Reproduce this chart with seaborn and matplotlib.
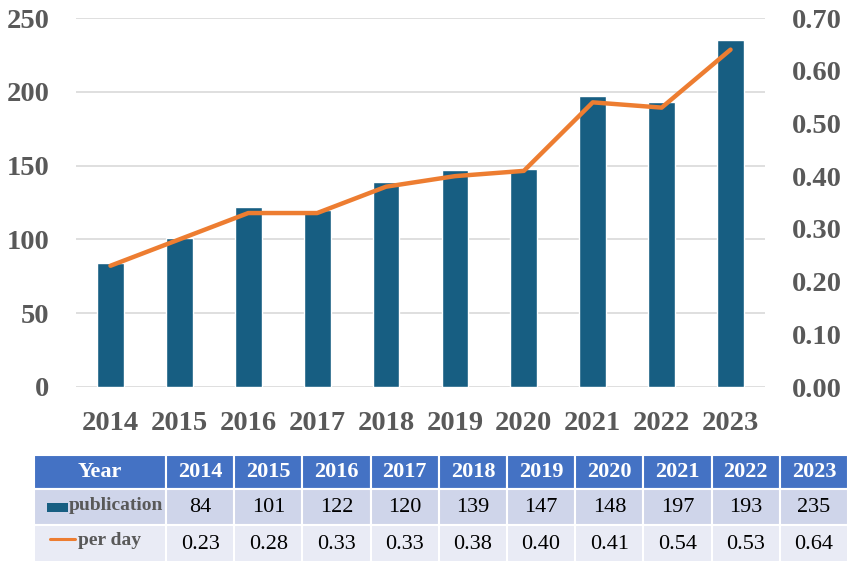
import numpy as np
import pandas as pd
import seaborn as sns
import matplotlib.pyplot as plt
from matplotlib.patches import Rectangle

years = ['2014', '2015', '2016', '2017', '2018', '2019', '2020', '2021', '2022', '2023']
publications = [84, 101, 122, 120, 139, 147, 148, 197, 193, 235]
per_day = [0.23, 0.28, 0.33, 0.33, 0.38, 0.40, 0.41, 0.54, 0.53, 0.64]
left_ticks = [0, 50, 100, 150, 200, 250]
right_ticks = [0.0, 0.1, 0.2, 0.3, 0.4, 0.5, 0.6, 0.7]

bar_color = '#175E82'
line_color = '#ED7D31'
grey = '#595959'

df = pd.DataFrame({'year': years, 'publication': publications, 'per_day': per_day})
df['pos'] = np.arange(len(df))

sns.set_theme(style='white')
plt.rcParams['font.family'] = ['Liberation Serif', 'DejaVu Serif']

W, H = 851, 569
fig = plt.figure(figsize=(W / 100, H / 100), dpi=100)
fig.patch.set_facecolor('white')

# main chart
ax = fig.add_axes([76 / W, 1 - 387 / H, 689 / W, 369 / H])
sns.barplot(data=df, x='year', y='publication', color=bar_color, width=0.39,
            saturation=1, ax=ax, zorder=3)
ax.set_xlim(-0.5, len(years) - 0.5)
ax.set_ylim(0, 250)
ax.set_yticks(left_ticks)
ax.set_yticklabels([str(t) for t in left_ticks])
ax.set_xlabel('')
ax.set_ylabel('')
ax.grid(axis='y', color='#D9D9D9', linewidth=1.2, zorder=0)
ax.set_axisbelow(True)
for s in ax.spines.values():
    s.set_visible(False)
ax.tick_params(axis='y', length=0, pad=19, labelsize=20.5, labelcolor=grey)
ax.tick_params(axis='x', length=0, pad=17, labelsize=20.5, labelcolor=grey)
for lab in ax.get_xticklabels() + ax.get_yticklabels():
    lab.set_fontweight('bold')

ax2 = ax.twinx()
sns.lineplot(data=df, x='pos', y='per_day', color=line_color, linewidth=3.2,
             ax=ax2, zorder=4)
ax2.set_xlim(-0.5, len(years) - 0.5)
ax2.set_ylim(0, 0.70)
ax2.set_yticks(right_ticks)
ax2.set_yticklabels([f'{t:.2f}' for t in right_ticks])
ax2.set_ylabel('')
ax2.set_xlabel('')
for s in ax2.spines.values():
    s.set_visible(False)
ax2.tick_params(axis='y', length=0, pad=19, labelsize=20.5, labelcolor=grey)
for lab in ax2.get_yticklabels():
    lab.set_fontweight('bold')
ax2.grid(False)

# data table below
tx0, tx1, ty0, ty1 = 34, 848, 455, 562
tab = fig.add_axes([tx0 / W, 1 - ty1 / H, (tx1 - tx0) / W, (ty1 - ty0) / H])
tab.set_xlim(0, tx1 - tx0)
tab.set_ylim(ty1 - ty0, 0)
tab.axis('off')

first_w = 132
col_w = (tx1 - tx0 - first_w) / len(years)
row_edges = [0, 34, 70, 107]
row_fill = ['#4472C4', '#CFD5EA', '#E9EBF5']
col_edges = [0, first_w] + [first_w + col_w * (i + 1) for i in range(len(years))]

rows = [['Year'] + years,
        ['publication'] + [str(v) for v in publications],
        ['per day'] + [f'{v:.2f}' for v in per_day]]

for r in range(3):
    for c in range(len(col_edges) - 1):
        x0, x1 = col_edges[c], col_edges[c + 1]
        y0, y1 = row_edges[r], row_edges[r + 1]
        tab.add_patch(Rectangle((x0, y0), x1 - x0, y1 - y0, facecolor=row_fill[r],
                                edgecolor='white', linewidth=1.5))
        txt = rows[r][c]
        cx, cy = (x0 + x1) / 2, (y0 + y1) / 2
        if r == 0:
            tab.text(cx, cy, txt, ha='center', va='center', color='white',
                     fontsize=16, fontweight='bold')
        elif c == 0 and r == 1:
            tab.text(x1 - 3, cy - 1, txt, ha='right', va='center', color=grey,
                     fontsize=14, fontweight='bold')
        elif c == 0:
            tab.text(44, cy - 3, txt, ha='left', va='center', color=grey,
                     fontsize=14, fontweight='bold')
        else:
            tab.text(cx, cy + 1, txt, ha='center', va='center', color='black',
                     fontsize=16)

# legend keys in the first column
tab.add_patch(Rectangle((13, 48), 21, 9, facecolor=bar_color, edgecolor='none'))
tab.plot([16, 41], [84, 84], color=line_color, linewidth=2.2)

fig.savefig('out.png', dpi=100, facecolor='white')
